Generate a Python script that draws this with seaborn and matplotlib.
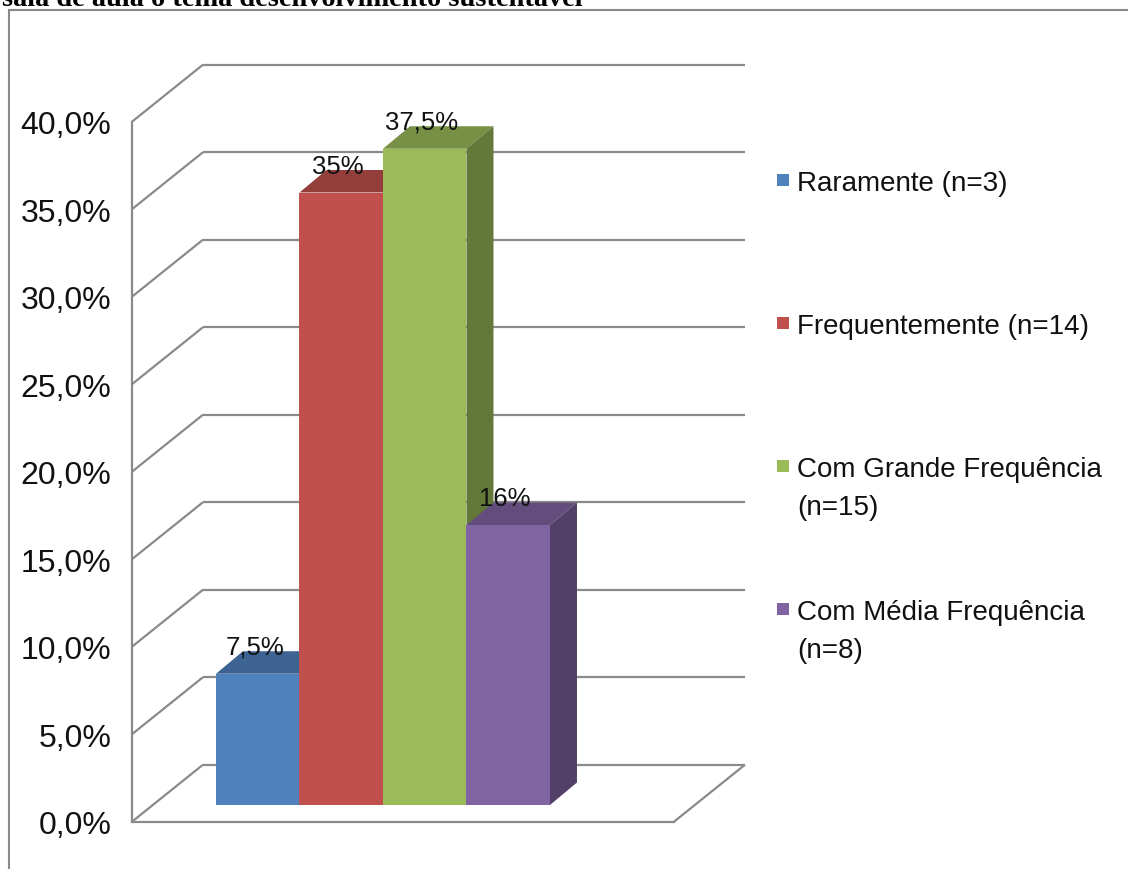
import matplotlib
matplotlib.use("Agg")
import matplotlib.pyplot as plt
from matplotlib.patches import Polygon, Rectangle
from matplotlib.ticker import FuncFormatter
import pandas as pd
import seaborn as sns

# ---- data ----
categories = [
    "Raramente (n=3)",
    "Frequentemente (n=14)",
    "Com Grande Frequência\n(n=15)",
    "Com Média Frequência\n(n=8)",
]
percentages = [7.5, 35.0, 37.5, 16.0]
value_labels = ["7,5%", "35%", "37,5%", "16%"]
bar_colors = ["#4F81BD", "#C0504D", "#9BBB59", "#8064A2"]
y_ticks = [0, 5, 10, 15, 20, 25, 30, 35, 40]
title_text = "sala de aula o tema desenvolvimento sustentável"

df = pd.DataFrame({"categoria": categories, "pct": percentages})

sns.set_theme(style="white")
plt.rcParams["font.family"] = ["Liberation Sans", "DejaVu Sans"]

W, H = 1128, 870
fig = plt.figure(figsize=(W / 100, H / 100), dpi=100)
fig.patch.set_facecolor("white")


def px_box(left, top, width, height):
    """Pixel box (from top-left) -> figure fraction rectangle."""
    return [left / W, 1 - (top + height) / H, width / W, height / H]


GRID = "#8a8a8a"
LW = 1.6
PX_PER_PCT = 700 / 40.0

# ---- walls and floor (front plane of the frame) ----
ax = fig.add_axes(px_box(132, 122.7, 542, 700))
ax.set_xlim(0, 1)
ax.set_ylim(0, 40)
ax.set_facecolor("none")

# oblique depth of the frame, in data units of the front plane
DX = 71 / 542
DY = 57 / PX_PER_PCT

for v in y_ticks:
    ax.plot([0, DX], [v, v + DY], color=GRID, lw=LW, clip_on=False,
            solid_capstyle="butt")
    ax.plot([DX, 1 + DX], [v + DY, v + DY], color=GRID, lw=LW,
            clip_on=False, solid_capstyle="butt")
ax.plot([1, 1 + DX], [0, DY], color=GRID, lw=LW, clip_on=False,
        solid_capstyle="butt")

for side in ["top", "right"]:
    ax.spines[side].set_visible(False)
for side in ["left", "bottom"]:
    ax.spines[side].set_color(GRID)
    ax.spines[side].set_linewidth(LW)

ax.set_yticks(y_ticks)
ax.yaxis.set_major_formatter(
    FuncFormatter(lambda v, _: f"{v:.1f}".replace(".", ",") + "%"))
ax.set_xticks([])
ax.tick_params(axis="y", direction="out", length=5.8, width=LW,
               color=GRID, labelsize=23, pad=9, labelcolor="#111111")
ax.set_xlabel("")
ax.set_ylabel("")

# ---- bars (plane of the bar fronts, set a little into the depth) ----
ax_bar = fig.add_axes(px_box(152.6, 106, 542, 700), zorder=5)
sns.barplot(data=df, x="categoria", y="pct", hue="categoria",
            order=categories, hue_order=categories, palette=bar_colors,
            width=1.0, saturation=1, legend=False, linewidth=0, ax=ax_bar)
ax_bar.set_xlim(-1.259, 5.232)
ax_bar.set_ylim(0, 40)
ax_bar.set_facecolor("none")
ax_bar.axis("off")

BDX = 27 / 83.5
BDY = 22.5 / PX_PER_PCT


def shade(hex_color, f):
    r, g, b = matplotlib.colors.to_rgb(hex_color)
    return (r * f, g * f, b * f)


for i, (patch, col, lab) in enumerate(zip(ax_bar.patches, bar_colors,
                                          value_labels)):
    x0, w, h = patch.get_x(), patch.get_width(), patch.get_height()
    z = 10 + 2 * i
    patch.set_zorder(z)
    patch.set_edgecolor("none")
    top = Polygon([(x0, h), (x0 + w, h), (x0 + w + BDX, h + BDY),
                   (x0 + BDX, h + BDY)], closed=True,
                  facecolor=shade(col, 0.77), edgecolor="none",
                  zorder=z, clip_on=False)
    side = Polygon([(x0 + w, 0), (x0 + w, h), (x0 + w + BDX, h + BDY),
                    (x0 + w + BDX, BDY)], closed=True,
                   facecolor=shade(col, 0.64), edgecolor="none",
                   zorder=z, clip_on=False)
    ax_bar.add_patch(top)
    ax_bar.add_patch(side)
    ax_bar.annotate(lab, xy=(x0 + w / 2, h), xytext=(-2.2, 19.4),
                    textcoords="offset points", ha="center", va="center",
                    fontsize=18.5, color="#111111", zorder=40,
                    annotation_clip=False)

# ---- legend ----
LEG_FS = 20
fs_px = LEG_FS * 100 / 72
for i, (lab, col) in enumerate(zip(categories, bar_colors)):
    yc = 181 + 143 * i
    fig.add_artist(Rectangle((777 / W, 1 - (yc + 6) / H), 12 / W, 12 / H,
                             transform=fig.transFigure, facecolor=col,
                             edgecolor="none"))
    fig.text(797 / W, 1 - (yc - 0.37 * fs_px) / H, lab, ha="left",
             va="top", fontsize=LEG_FS, color="#111111", linespacing=1.6)

# ---- caption line at the top edge and chart frame ----
fig.text(2 / W, 1 - 6 / H, title_text, ha="left", va="baseline",
         fontsize=20.4, fontweight="bold", family=["Liberation Serif"],
         color="black")
fig.add_artist(Rectangle((8.5 / W, -0.05), 1.2, 1.05 - 11 / H,
                         transform=fig.transFigure, fill=False,
                         edgecolor="#8a8a8a", linewidth=1.5))

fig.savefig("out.png", dpi=100, facecolor="white")
